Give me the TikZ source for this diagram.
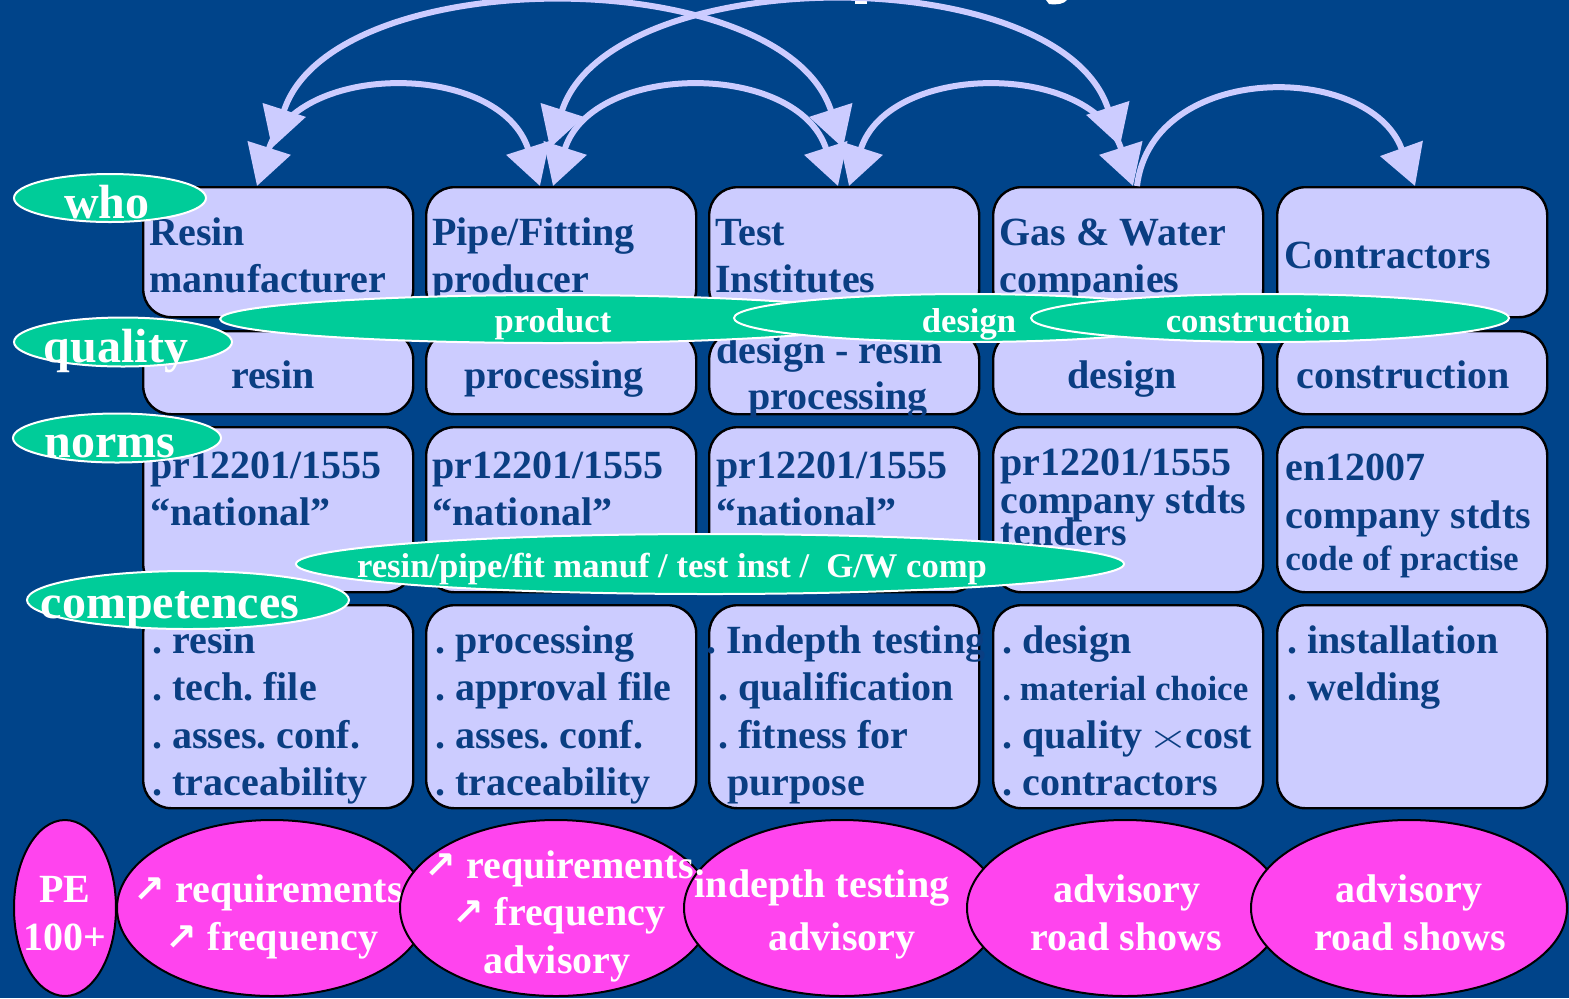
\documentclass[tikz,border=0pt]{standalone}
\usepackage{fontspec}
\usepackage{graphicx}
\setmainfont{Liberation Serif}
\newfontfamily\arrowfont{DejaVu Sans}
\usetikzlibrary{shapes.geometric,arrows.meta,calc}
\definecolor{bg}{RGB}{0,68,138}
\definecolor{boxfill}{RGB}{204,204,255}
\definecolor{navy}{RGB}{10,62,130}
\definecolor{lgreen}{RGB}{0,204,153}
\definecolor{pinkfill}{RGB}{255,68,238}
\definecolor{arrowc}{RGB}{204,204,255}
\frenchspacing
\newcommand\myarr{{\arrowfont\bfseries\fontsize{19}{19}\selectfont ↗}}
\newcommand\mytimes{\scalebox{1.3}[0.85]{$\times$}}
\tikzset{
  box/.style={draw=black, line width=1.2pt, fill=boxfill, rounded corners=14pt, inner sep=0pt, anchor=north west},
  txt/.style={text=navy, font={\fontsize{20}{24}\selectfont\bfseries}, inner sep=0pt, anchor=base west},
  ctxt/.style={txt, anchor=base},
  smalltxt/.style={txt, font={\fontsize{17.5}{20}\selectfont\bfseries}},
  glabel/.style={ellipse, draw=white, line width=1pt, fill=lgreen, inner sep=0pt},
  gtxt/.style={text=white, font={\fontsize{24}{28}\selectfont\bfseries}, inner sep=0pt, anchor=base},
  gsmall/.style={text=white, font={\fontsize{17.3}{20}\selectfont\bfseries}, inner sep=0pt, anchor=base},
  magel/.style={ellipse, draw=black, line width=1pt, fill=pinkfill, inner sep=0pt},
  mtxt/.style={text=white, font={\fontsize{20}{24}\selectfont\bfseries}, inner sep=0pt, anchor=base},
  conn/.style={draw=arrowc, line width=3pt, -{Triangle[length=20pt,width=22pt]}},
  dconn/.style={conn, {Triangle[length=20pt,width=22pt]}-{Triangle[length=20pt,width=22pt]}},
}
\begin{document}
\begin{tikzpicture}[x=0.5pt,y=-0.5pt]
\fill[bg] (0,0) rectangle (1569,998);
\useasboundingbox (0,0) rectangle (1569,998);

% title fragments
\fill[white] (855,0) rectangle (867,4);
\fill[white] (1046,0) -- (1067,0) .. controls (1064,4) and (1057,5) .. (1049,4) -- cycle;

% boxes
\foreach \c/\x in {1/142,2/425,3/708,4/992,5/1276}{
  \node[box, minimum width=135pt, minimum height=65pt] (w\c) at (\x,186) {};
  \node[box, minimum width=135pt, minimum height=41.5pt] (q\c) at (\x,330) {};
  \node[box, minimum width=135pt, minimum height=82.5pt] (n\c) at (\x,426) {};
  \node[box, minimum width=135pt, minimum height=101.5pt] (c\c) at (\x,604) {};
}

% arcs
\draw[dconn] ($(w1.north west)+(130,-38)$) .. controls +(60,-187) and +(-60,-187) .. ($(w3.north west)+(135,-38)$);
\draw[dconn] ($(w2.north west)+(125,-38)$) .. controls +(60,-187) and +(-60,-187) .. ($(w4.north west)+(128,-40)$);
\draw[dconn] ($(w1.north west)+(115,0)$) .. controls +(40,-125) and +(-40,-125) .. ($(w2.north west)+(115,0)$);
\draw[dconn] ($(w2.north west)+(128,0)$) .. controls +(40,-125) and +(-40,-125) .. ($(w3.north west)+(130,0)$);
\draw[dconn] ($(w3.north west)+(141,0)$) .. controls +(40,-125) and +(-40,-125) .. ($(w4.north west)+(141,0)$);
\draw[conn] ($(w4.north west)+(145,0)$) .. controls +(15,-125) and +(-45,-125) .. ($(w5.north west)+(139,0)$);

% row 1
\node[txt] (t11a) at (149,245) {Resin};
\node[txt] (t11b) at (149,292) {manufacturer};
\node[txt] (t12a) at (432,245) {Pipe/Fitting};
\node[txt] (t12b) at (432,292) {producer};
\node[txt] (t13a) at (715,245) {Test};
\node[txt] (t13b) at (715,292) {Institutes};
\node[txt] (t14a) at (999,245) {Gas \& Water};
\node[txt] (t14b) at (999,292) {companies};
\node[txt] (t15) at (1284,268) {Contractors};

% row 2
\node[ctxt] (t21) at (273,388) {resin};
\node[ctxt] (t22) at (554,388) {processing};
\node[txt] (t23a) at (716,363) {design - resin};
\node[ctxt] (t23b) at (838,409) {processing};
\node[ctxt] (t24) at (1122,388) {design};
\node[ctxt] (t25) at (1403,388) {construction};

% row 3
\node[txt] (t31a) at (150,478) {pr12201/1555};
\node[txt] (t31b) at (150,525) {“national”};
\node[txt] (t32a) at (432,478) {pr12201/1555};
\node[txt] (t32b) at (432,525) {“national”};
\node[txt] (t33a) at (716,478) {pr12201/1555};
\node[txt] (t33b) at (716,525) {“national”};
\node[txt] (t34a) at (1000,475) {pr12201/1555};
\node[txt] (t34b) at (1000,513) {company stdts};
\node[txt] (t34c) at (1000,545) {tenders};
\node[txt] (t35a) at (1285,480) {en12007};
\node[txt] (t35b) at (1285,528) {company stdts};
\node[smalltxt] (t35c) at (1285,570) {code of practise};

% row 4
\node[txt] (t41a) at (152,653) {. resin};
\node[txt] (t41b) at (152,700) {. tech. file};
\node[txt] (t41c) at (152,748) {. asses. conf.};
\node[txt] (t41d) at (152,795) {. traceability};
\node[txt] (t42a) at (435,653) {. processing};
\node[txt] (t42b) at (435,700) {. approval file};
\node[txt] (t42c) at (435,748) {. asses. conf.};
\node[txt] (t42d) at (435,795) {. traceability};
\node[txt] (t43a) at (706,653) {. Indepth testing};
\node[txt] (t43b) at (718,700) {. qualification};
\node[txt] (t43c) at (718,748) {. fitness for};
\node[txt] (t43d) at (727,795) {purpose};
\node[txt] (t44a) at (1002,653) {. design};
\node[smalltxt] (t44b) at (1002,700) {. material choice};
\node[txt] (t44c) at (1002,748) {. quality\ \kern-2.5pt\mytimes\kern-2pt cost};
\node[txt] (t44d) at (1002,795) {. contractors};
\node[txt] (t45a) at (1287,653) {. installation};
\node[txt] (t45b) at (1287,700) {. welding};

% green labels
\node[glabel, minimum width=96pt, minimum height=24pt] (gwho) at (110,198) {};
\node[gtxt] (lwho) at (107,218) {who};
\node[glabel, minimum width=109pt, minimum height=24.5pt] (gqual) at (123,342) {};
\node[gtxt] (lqual) at (116,362) {quality};
\node[glabel, minimum width=104pt, minimum height=24.5pt] (gnorm) at (117,438) {};
\node[gtxt] (lnorm) at (110,457) {norms};
\node[glabel, minimum width=161pt, minimum height=29pt] (gcomp) at (188,600) {};
\node[gtxt] (lcomp) at (170,618) {competences};
\node[glabel, minimum width=333pt, minimum height=24pt] (gprod) at (553,319) {};
\node[gsmall] (lprod) at (553,332) {product};
\node[glabel, minimum width=234pt, minimum height=24pt] (gdes) at (968,318) {};
\node[gsmall] (ldes) at (969,332) {design};
\node[glabel, minimum width=239pt, minimum height=24pt] (gcons) at (1270,318) {};
\node[gsmall] (lcons) at (1258,332) {construction};
\node[glabel, minimum width=414pt, minimum height=30pt] (gman) at (710,564) {};
\node[gsmall] (lman) at (672,577) {resin/pipe/fit manuf / test inst /\ \ G/W comp};

% magenta ellipses
\node[magel, minimum width=51pt, minimum height=88pt] (m1) at (65,908) {};
\node[mtxt] (m1a) at (65,902) {PE};
\node[mtxt] (m1b) at (65,950) {100+};
\node[magel, minimum width=155pt, minimum height=88pt] (m2) at (272,908) {};
\node[mtxt] (m2a) at (268,902) {\myarr\ requirements};
\node[mtxt] (m2b) at (272,950) {\myarr\ frequency};
\node[magel, minimum width=156pt, minimum height=88pt] (m3) at (556,908) {};
\node[mtxt] (m3a) at (559,878) {\myarr\ requirements};
\node[mtxt] (m3b) at (559,925) {\myarr\ frequency};
\node[mtxt] (m3c) at (557,973) {advisory};
\node[magel, minimum width=158pt, minimum height=88pt] (m4) at (842,908) {};
\node[mtxt] (m4a) at (822,897) {indepth testing};
\node[mtxt] (m4b) at (842,950) {advisory};
\node[magel, minimum width=158pt, minimum height=88pt] (m5) at (1125,908) {};
\node[mtxt] (m5a) at (1127,902) {advisory};
\node[mtxt] (m5b) at (1126,950) {road shows};
\node[magel, minimum width=158pt, minimum height=88pt] (m6) at (1409,908) {};
\node[mtxt] (m6a) at (1409,902) {advisory};
\node[mtxt] (m6b) at (1410,950) {road shows};
\end{tikzpicture}
\end{document}
